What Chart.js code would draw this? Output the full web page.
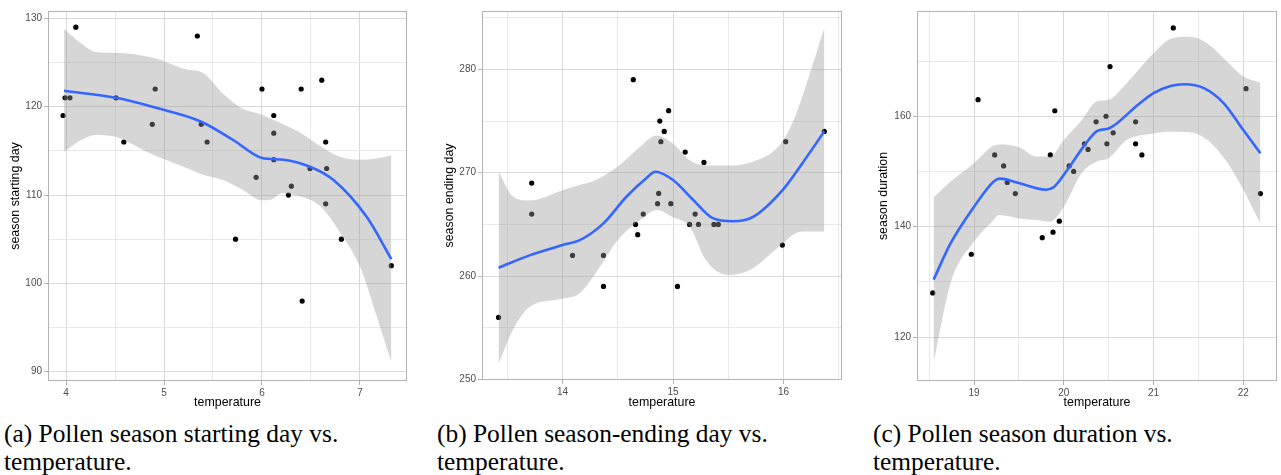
<!DOCTYPE html>
<html>
<head>
<meta charset="utf-8">
<script src="https://cdn.jsdelivr.net/npm/chart.js@4.4.0/dist/chart.umd.min.js"></script>
<style>
  body { margin: 0; background: #fff; width: 1281px; height: 475px; position: relative; overflow: hidden; }
  .panel { position: absolute; top: 0; height: 415px; }
  .cap { position: absolute; top: 419px; font-family: "Liberation Serif", "Times New Roman", serif; font-size: 25.4px; line-height: 28px; color: #000; white-space: nowrap; }
</style>
</head>
<body>
<div class="panel" style="left:0px;width:420px"><canvas id="G1"></canvas></div>
<div class="panel" style="left:430px;width:430px"><canvas id="G2"></canvas></div>
<div class="panel" style="left:850px;width:431px"><canvas id="G3"></canvas></div>
<div class="cap" style="left:4px">(a) Pollen season starting day vs.<br>temperature.</div>
<div class="cap" style="left:437px">(b) Pollen season-ending day vs.<br>temperature.</div>
<div class="cap" style="left:873px">(c) Pollen season duration vs.<br>temperature.</div>
<script>
// (a) season starting day
var startTemp = [3.97, 3.99, 4.04, 4.10, 4.51, 4.59, 4.88, 4.91, 5.34, 5.38, 5.44, 5.73, 5.94, 6.00, 6.12, 6.12, 6.12, 6.27, 6.30, 6.40, 6.41, 6.49, 6.61, 6.65, 6.65, 6.66, 6.81, 7.32];
var startDay  = [119, 121, 121, 129, 121, 116, 118, 122, 128, 118, 116, 105, 112, 122, 119, 117, 114, 110, 111, 122, 98, 113, 123, 116, 109, 113, 105, 102];
var startFitX = [3.98, 4.51, 4.91, 5.38, 5.71, 6.00, 6.22, 6.49, 6.73, 7.07, 7.32];
var startFit  = [121.8, 121.0, 119.9, 118.3, 116.2, 114.2, 114.0, 113.2, 111.7, 107.5, 102.75];
var startBandX = [3.98, 4.15, 4.3, 4.5, 4.9, 5.2, 5.4, 5.6, 5.8, 6.0, 6.1, 6.2, 6.4, 6.6, 6.8, 7.0, 7.15, 7.32];
var startUpper = [128.8, 127.2, 126.2, 126.1, 125.5, 124.3, 123.8, 121.5, 119.8, 119.1, 118.6, 118.1, 117.0, 115.5, 114.3, 114.0, 114.1, 114.5];
var startLower = [114.9, 116.2, 116.8, 116.6, 114.5, 113.2, 112.3, 111.7, 110.6, 109.4, 109.5, 110.2, 109.8, 108.7, 105.7, 101.9, 97.0, 91.1];

// (b) season ending day
var endTemp = [13.42, 13.72, 13.72, 14.09, 14.37, 14.37, 14.64, 14.66, 14.68, 14.73, 14.86, 14.87, 14.88, 14.89, 14.92, 14.96, 14.98, 15.04, 15.11, 15.15, 15.20, 15.23, 15.28, 15.37, 15.41, 15.99, 16.02, 16.37];
var endDay  = [256, 269, 266, 262, 262, 259, 279, 265, 264, 266, 267, 268, 275, 273, 274, 276, 267, 259, 272, 265, 266, 265, 271, 265, 265, 263, 273, 274];
var endFitX = [13.42, 13.70, 14.0, 14.16, 14.37, 14.58, 14.76, 14.84, 15.0, 15.18, 15.36, 15.54, 15.72, 15.99, 16.17, 16.37];
var endFit  = [260.8, 262.0, 263.0, 263.5, 265.1, 267.7, 269.5, 270.1, 269.3, 267.4, 265.6, 265.3, 265.7, 268.3, 270.9, 274.0];
var endBandX = [13.42, 13.55, 13.7, 14.0, 14.15, 14.3, 14.5, 14.7, 14.85, 15.0, 15.15, 15.3, 15.5, 15.7, 15.9, 16.0, 16.1, 16.2, 16.37];
var endUpper = [270.1, 267.7, 267.3, 268.3, 268.8, 269.3, 270.6, 272.5, 273.6, 272.8, 271.2, 270.7, 270.7, 271.0, 272.0, 273.2, 275.3, 278.3, 284.0];
var endLower = [251.5, 254.8, 257.0, 257.8, 258.3, 260.3, 263.5, 265.4, 266.4, 265.7, 264.8, 261.5, 260.1, 260.6, 262.3, 263.2, 264.1, 264.3, 264.3];

// (c) season duration
var durTemp = [18.54, 18.97, 19.045, 19.23, 19.33, 19.37, 19.46, 19.76, 19.85, 19.88, 19.90, 19.95, 20.06, 20.11, 20.23, 20.27, 20.36, 20.47, 20.48, 20.515, 20.55, 20.80, 20.80, 20.87, 21.22, 22.03, 22.19];
var durDays = [128, 135, 163, 153, 151, 148, 146, 138, 153, 139, 161, 141, 151, 150, 155, 154, 159, 160, 155, 169, 157, 159, 155, 153, 176, 165, 146];
var durFitX = [18.55, 18.74, 19.0, 19.22, 19.29, 19.48, 19.8, 19.89, 20.04, 20.22, 20.37, 20.5, 20.59, 20.82, 21.0, 21.19, 21.34, 21.56, 21.78, 22.0, 22.19];
var durFit  = [130.4, 137.0, 143.6, 148.2, 148.7, 148.0, 146.7, 147.2, 150.3, 154.5, 157.3, 157.8, 158.7, 162.0, 164.2, 165.5, 165.8, 165.1, 162.4, 157.5, 153.3];
var durBandX = [18.55, 18.74, 19.0, 19.2, 19.28, 19.5, 19.7, 19.85, 20.0, 20.2, 20.37, 20.5, 20.7, 21.0, 21.2, 21.4, 21.6, 21.8, 22.0, 22.19];
var durUpper = [145.3, 148.2, 151.5, 154.5, 154.9, 154.4, 152.7, 152.7, 155.7, 159.3, 162.7, 163.0, 166.0, 171.4, 174.1, 174.4, 173.2, 170.2, 167.2, 166.1];
var durLower = [115.3, 129.8, 137.3, 140.9, 142.1, 141.5, 141.2, 140.9, 143.6, 149.7, 151.8, 152.4, 155.7, 156.9, 157.2, 157.1, 155.7, 152.1, 146.7, 140.6];

Chart.defaults.font.family = '"Liberation Sans", Arial, sans-serif';
Chart.defaults.animation = false;

function pares(xs, ys) {
    return xs.map(function (x, i) { return {x: x, y: ys[i]}; });
}

var marco = {
    id: 'marco',
    afterDatasetsDraw: function (chart) {
        var a = chart.chartArea, c = chart.ctx;
        c.save();
        c.strokeStyle = '#b3b3b3';
        c.lineWidth = 1;
        c.strokeRect(a.left + 0.5, a.top + 0.5, a.right - a.left - 1, a.bottom - a.top - 1);
        c.restore();
    }
};

function esEntero(v, paso) {
    return Math.abs(v / paso - Math.round(v / paso)) < 1e-6;
}

function graficar(id, o) {
    var ctx = document.getElementById(id).getContext('2d');
    return new Chart(ctx, {
        type: 'line',
        data: {
            datasets: [
                {data: pares(o.fitX, o.fit), borderColor: '#3366FF', borderWidth: 2.6, pointRadius: 0, fill: false, cubicInterpolationMode: 'monotone'},
                {data: pares(o.bandX, o.upper), borderWidth: 0, pointRadius: 0, fill: '+1', backgroundColor: 'rgba(153,153,153,0.4)', cubicInterpolationMode: 'monotone'},
                {data: pares(o.bandX, o.lower), borderWidth: 0, pointRadius: 0, fill: false, cubicInterpolationMode: 'monotone'},
                {type: 'scatter', data: pares(o.xs, o.ys), pointRadius: 2.6, pointBackgroundColor: '#000', pointBorderWidth: 0, showLine: false}
            ]
        },
        options: {
            responsive: true,
            maintainAspectRatio: false,
            layout: {padding: {top: 11, right: o.padRight, bottom: 0, left: 0}},
            plugins: {legend: {display: false}, tooltip: {enabled: false}},
            scales: {
                x: {
                    type: 'linear', min: o.xMin, max: o.xMax,
                    afterFit: function (s) { s.height = o.xHeight; },
                    border: {display: false},
                    grid: {
                        color: function (c) { return esEntero(c.tick.value, 1) ? '#d9d9d9' : '#e3e3e3'; },
                        lineWidth: function (c) { return esEntero(c.tick.value, 1) ? 1 : 0.8; },
                        tickColor: function (c) { return esEntero(c.tick.value, 1) ? '#b3b3b3' : 'rgba(0,0,0,0)'; },
                        tickLength: 4
                    },
                    ticks: {
                        stepSize: 0.5, includeBounds: false, autoSkip: false, maxRotation: 0, padding: 2,
                        color: '#4d4d4d', font: {size: 10},
                        callback: function (v) { return esEntero(v, 1) ? String(v) : ''; }
                    },
                    title: {display: true, text: 'temperature', color: '#000', font: {size: 12.4}, padding: {top: 0, bottom: 5}}
                },
                y: {
                    type: 'linear', min: o.yMin, max: o.yMax,
                    afterFit: function (s) { s.width = o.yWidth; },
                    border: {display: false},
                    grid: {
                        color: function (c) { return esEntero(c.tick.value, o.yMajor) ? '#d9d9d9' : '#e3e3e3'; },
                        lineWidth: function (c) { return esEntero(c.tick.value, o.yMajor) ? 1 : 0.8; },
                        tickColor: function (c) { return esEntero(c.tick.value, o.yMajor) ? '#b3b3b3' : 'rgba(0,0,0,0)'; },
                        tickLength: 4
                    },
                    ticks: {
                        stepSize: o.yMajor / 2, includeBounds: false, autoSkip: false, padding: 2,
                        color: '#4d4d4d', font: {size: 10},
                        callback: function (v) { return esEntero(v, o.yMajor) ? String(v) : ''; }
                    },
                    title: {display: true, text: o.yTitle, color: '#000', font: {size: 12.4}, padding: {top: o.titlePad, bottom: 0}}
                }
            }
        },
        plugins: [marco]
    });
}

graficar('G1', {
    xs: startTemp, ys: startDay, fitX: startFitX, fit: startFit, bandX: startBandX, upper: startUpper, lower: startLower,
    xMin: 3.816, xMax: 7.48, yMin: 88.95, yMax: 130.83, yMajor: 10, yTitle: 'season starting day',
    yWidth: 48, xHeight: 34, padRight: 13, titlePad: 8.6
});
graficar('G2', {
    xs: endTemp, ys: endDay, fitX: endFitX, fit: endFit, bandX: endBandX, upper: endUpper, lower: endLower,
    xMin: 13.27, xMax: 16.53, yMin: 249.94, yMax: 285.65, yMajor: 10, yTitle: 'season ending day',
    yWidth: 52, xHeight: 35, padRight: 18, titlePad: 12.6
});
graficar('G3', {
    xs: durTemp, ys: durDays, fitX: durFitX, fit: durFit, bandX: durBandX, upper: durUpper, lower: durLower,
    xMin: 18.365, xMax: 22.375, yMin: 112.04, yMax: 179.07, yMajor: 20, yTitle: 'season duration',
    yWidth: 67, xHeight: 34, padRight: 4, titlePad: 26.6
});
</script>
</body>
</html>
